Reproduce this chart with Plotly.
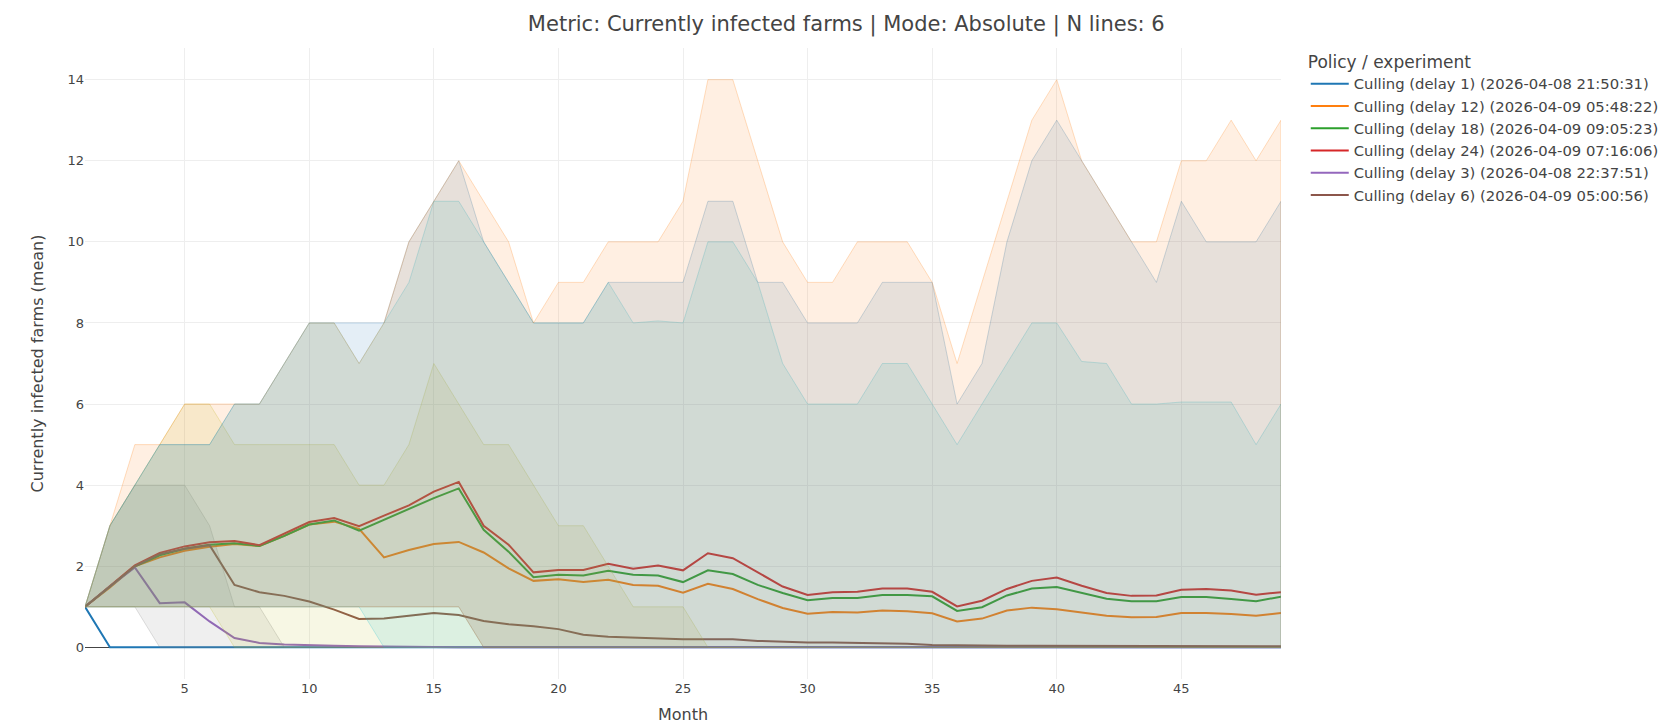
import plotly.graph_objects as go

months = list(range(1, 50))

series_names = [
    "Culling (delay 1) (2026-04-08 21:50:31)",
    "Culling (delay 12) (2026-04-09 05:48:22)",
    "Culling (delay 18) (2026-04-09 09:05:23)",
    "Culling (delay 24) (2026-04-09 07:16:06)",
    "Culling (delay 3) (2026-04-08 22:37:51)",
    "Culling (delay 6) (2026-04-09 05:00:56)",
]
line_colors = ["#1f77b4", "#ff7f0e", "#2ca02c", "#d62728", "#9467bd", "#8c564b"]

mean_delay1 = [1.0, 0, 0, 0, 0, 0, 0, 0, 0, 0, 0, 0, 0, 0, 0, 0,
               0, 0, 0, 0, 0, 0, 0, 0, 0, 0, 0, 0, 0, 0, 0, 0,
               0, 0, 0, 0, 0, 0, 0, 0, 0, 0, 0, 0, 0, 0, 0, 0, 0]
mean_delay12 = [1.0, 1.48, 2.0, 2.22, 2.38, 2.48, 2.55, 2.5, 2.75, 3.03, 3.1, 2.92, 2.22, 2.4, 2.55, 2.6,
                2.34, 1.95, 1.64, 1.68, 1.61, 1.67, 1.54, 1.52, 1.35, 1.57, 1.44, 1.19, 0.97, 0.83, 0.87, 0.86,
                0.91, 0.89, 0.84, 0.64, 0.71, 0.91, 0.98, 0.94, 0.86, 0.78, 0.74, 0.75, 0.85, 0.85, 0.82, 0.78, 0.85]
mean_delay18 = [1.0, 1.5, 2.0, 2.27, 2.43, 2.53, 2.57, 2.5, 2.75, 3.03, 3.13, 2.88, 3.15, 3.4, 3.68, 3.92,
                2.9, 2.36, 1.73, 1.79, 1.77, 1.89, 1.79, 1.77, 1.61, 1.9, 1.81, 1.54, 1.34, 1.16, 1.22, 1.22,
                1.29, 1.29, 1.26, 0.9, 0.99, 1.28, 1.45, 1.49, 1.34, 1.2, 1.14, 1.14, 1.24, 1.24, 1.19, 1.14, 1.25]
mean_delay24 = [1.0, 1.52, 2.02, 2.33, 2.49, 2.59, 2.62, 2.52, 2.8, 3.09, 3.19, 2.99, 3.25, 3.5, 3.84, 4.08,
                3.0, 2.53, 1.85, 1.91, 1.91, 2.06, 1.94, 2.02, 1.9, 2.32, 2.2, 1.85, 1.5, 1.29, 1.36, 1.37,
                1.45, 1.45, 1.37, 1.01, 1.15, 1.44, 1.64, 1.72, 1.52, 1.34, 1.27, 1.28, 1.42, 1.44, 1.4, 1.3, 1.36]
mean_delay3 = [1.0, 1.5, 1.97, 1.09, 1.11, 0.64, 0.23, 0.11, 0.07, 0.05, 0.04, 0.03, 0.02, 0.01, 0.01, 0,
               0, 0, 0, 0, 0, 0, 0, 0, 0, 0, 0, 0, 0, 0, 0, 0,
               0, 0, 0, 0, 0, 0, 0, 0, 0, 0, 0, 0, 0, 0, 0, 0, 0]
mean_delay6 = [1.0, 1.5, 2.0, 2.3, 2.43, 2.52, 1.54, 1.36, 1.27, 1.13, 0.93, 0.7, 0.71, 0.78, 0.85, 0.8,
               0.65, 0.57, 0.52, 0.45, 0.31, 0.26, 0.24, 0.21, 0.2, 0.2, 0.2, 0.16, 0.14, 0.12, 0.12, 0.11,
               0.1, 0.09, 0.06, 0.05, 0.05, 0.04, 0.04, 0.04, 0.04, 0.04, 0.04, 0.03, 0.03, 0.03, 0.03, 0.03, 0.03]

means = [mean_delay1, mean_delay12, mean_delay18, mean_delay24, mean_delay3, mean_delay6]

# uncertainty bands (upper / lower)
band_hi_delay3 = [1, 3, 4, 4, 4, 3, 1, 1, 0, 0, 0, 0, 0, 0, 0, 0,
                  0, 0, 0, 0, 0, 0, 0, 0, 0, 0, 0, 0, 0, 0, 0, 0,
                  0, 0, 0, 0, 0, 0, 0, 0, 0, 0, 0, 0, 0, 0, 0, 0, 0]
band_lo_delay3 = [1, 1, 1, 0, 0, 0, 0, 0, 0, 0, 0, 0, 0, 0, 0, 0,
                  0, 0, 0, 0, 0, 0, 0, 0, 0, 0, 0, 0, 0, 0, 0, 0,
                  0, 0, 0, 0, 0, 0, 0, 0, 0, 0, 0, 0, 0, 0, 0, 0, 0]
band_hi_delay6 = [1, 3, 4, 5, 6, 6, 5, 5, 5, 5, 5, 4, 4, 5, 7, 6,
                  5, 5, 4, 3, 3, 2, 1, 1, 1, 0, 0, 0, 0, 0, 0, 0,
                  0, 0, 0, 0, 0, 0, 0, 0, 0, 0, 0, 0, 0, 0, 0, 0, 0]
band_lo_delay6 = [1, 1, 1, 1, 1, 1, 0, 0, 0, 0, 0, 0, 0, 0, 0, 0,
                  0, 0, 0, 0, 0, 0, 0, 0, 0, 0, 0, 0, 0, 0, 0, 0,
                  0, 0, 0, 0, 0, 0, 0, 0, 0, 0, 0, 0, 0, 0, 0, 0, 0]
band_hi_delay12 = [1, 3, 4, 5, 5, 5, 6, 6, 7, 8, 8, 7, 8, 9, 11, 11,
                   10, 9, 8, 8, 8, 9, 8, 8.05, 8, 10, 10, 9, 7, 6, 6, 6,
                   7, 7, 6, 5, 6, 7, 8, 8, 7.05, 7, 6, 6, 6.05, 6.05, 6.05, 5, 6]
band_lo_delay12 = [1, 1, 1, 1, 1, 1, 1, 1, 1, 1, 1, 1, 0, 0, 0, 0,
                   0, 0, 0, 0, 0, 0, 0, 0, 0, 0, 0, 0, 0, 0, 0, 0,
                   0, 0, 0, 0, 0, 0, 0, 0, 0, 0, 0, 0, 0, 0, 0, 0, 0]
band_hi_delay24 = [1, 3, 4, 5, 5, 5, 6, 6, 7, 8, 8, 8, 8, 10, 11, 12,
                   10, 9, 8, 8, 8, 9, 9, 9, 9, 11, 11, 9, 9, 8, 8, 8,
                   9, 9, 9, 6, 7, 10, 12, 13, 12, 11, 10, 9, 11, 10, 10, 10, 11]
band_lo_delay24 = [1, 1, 1, 1, 1, 1, 1, 1, 1, 1, 1, 1, 1, 1, 1, 1,
                   0, 0, 0, 0, 0, 0, 0, 0, 0, 0, 0, 0, 0, 0, 0, 0,
                   0, 0, 0, 0, 0, 0, 0, 0, 0, 0, 0, 0, 0, 0, 0, 0, 0]
band_hi_delay18 = [1, 3, 5, 5, 6, 6, 6, 6, 7, 8, 8, 7, 8, 10, 11, 12,
                   11, 10, 8, 9, 9, 10, 10, 10, 11, 14, 14, 12, 10, 9, 9, 10,
                   10, 10, 9, 7, 9, 11, 13, 14, 12, 11, 10, 10, 12, 12, 13, 12, 13]
band_lo_delay18 = [1, 1, 1, 1, 1, 1, 1, 1, 1, 1, 1, 1, 1, 1, 1, 1,
                   0, 0, 0, 0, 0, 0, 0, 0, 0, 0, 0, 0, 0, 0, 0, 0,
                   0, 0, 0, 0, 0, 0, 0, 0, 0, 0, 0, 0, 0, 0, 0, 0, 0]

bands = [
    (band_hi_delay3, band_lo_delay3, (127, 127, 127)),
    (band_hi_delay6, band_lo_delay6, (188, 189, 34)),
    (band_hi_delay12, band_lo_delay12, (23, 190, 207)),
    (band_hi_delay24, band_lo_delay24, (31, 119, 180)),
    (band_hi_delay18, band_lo_delay18, (255, 127, 14)),
]

fig = go.Figure()

for name, ys, col in zip(series_names, means, line_colors):
    fig.add_trace(go.Scatter(x=months, y=ys, mode="lines", name=name,
                             line=dict(color=col, width=2)))

for hi, lo, (r, g, b) in bands:
    fig.add_trace(go.Scatter(
        x=months + months[::-1], y=hi + lo[::-1], mode="lines", fill="toself",
        fillcolor=f"rgba({r},{g},{b},0.12)",
        line=dict(color=f"rgba({r},{g},{b},0.25)", width=1),
        showlegend=False, hoverinfo="skip"))

fig.update_layout(
    template="none",
    width=1664, height=724,
    margin=dict(l=85, r=383, t=48, b=45, autoexpand=False),
    font=dict(family="Verdana, DejaVu Sans, sans-serif", size=14, color="#444"),
    title=dict(text="Metric: Currently infected farms | Mode: Absolute | N lines: 6",
               x=0.5086, xanchor="center", y=0.968, yanchor="middle", yref="container",
               font=dict(size=21)),
    legend=dict(title=dict(text="Policy / experiment", font=dict(size=17)),
                font=dict(size=14.8), itemwidth=38,
                x=1.0207, xanchor="left", y=1.004, yanchor="top"),
    plot_bgcolor="white", paper_bgcolor="white",
)
fig.update_xaxes(title_text="Month", title_font=dict(size=16), range=[1, 49], gridcolor="#eee",
                 showline=False, zeroline=False, dtick=5, tick0=0, tickfont=dict(size=13))
fig.update_yaxes(title_text="Currently infected farms (mean)", title_font=dict(size=16),
                 range=[-0.78, 14.78], tickfont=dict(size=13),
                 gridcolor="#eee", zeroline=True, zerolinecolor="#444", zerolinewidth=1,
                 dtick=2, showline=False)

fig.write_html("out.html", config={"displayModeBar": False},
               post_script="document.body.style.margin='0';document.body.style.overflow='hidden';")
